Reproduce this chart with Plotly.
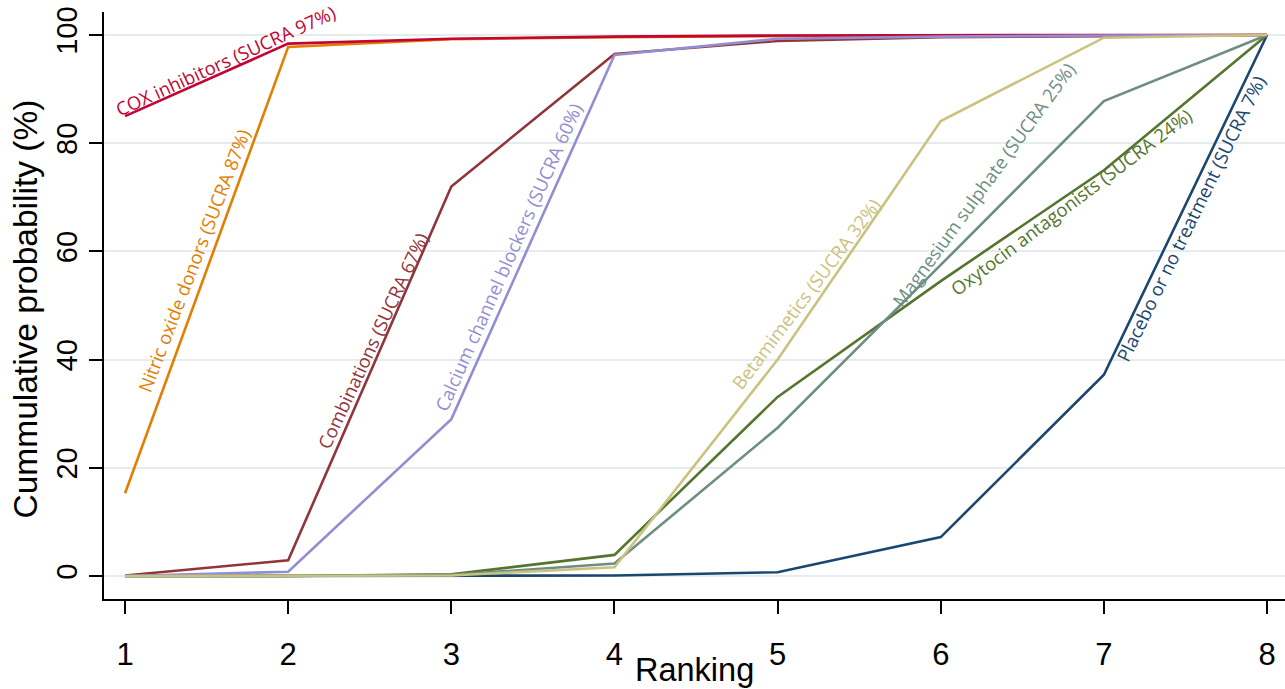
import plotly.graph_objects as go

ranks = [1, 2, 3, 4, 5, 6, 7, 8]

placebo = [0.0, 0.0, 0.0, 0.1, 0.7, 7.2, 37.2, 100]
combinations = [0.1, 2.9, 72.0, 96.5, 98.9, 99.6, 99.8, 100]
oxytocin = [0.0, 0.0, 0.3, 3.9, 33.1, 54.5, 75.0, 100]
nitric = [15.3, 97.8, 99.2, 99.6, 99.8, 99.9, 100, 100]
magnesium = [0.0, 0.0, 0.2, 2.3, 27.4, 57.5, 87.8, 100]
cox = [85.0, 98.4, 99.3, 99.7, 99.9, 100, 100, 100]
calcium = [0.0, 0.8, 29.0, 96.3, 99.3, 99.7, 99.9, 100]
betamimetics = [0.0, 0.0, 0.1, 1.6, 40.0, 84.1, 99.5, 100]

series = [
    ("Placebo or no treatment (SUCRA 7%)", placebo, "rgb(26,71,111)"),
    ("Combinations (SUCRA 67%)", combinations, "rgb(144,53,59)"),
    ("Oxytocin antagonists (SUCRA 24%)", oxytocin, "rgb(85,117,47)"),
    ("Nitric oxide donors (SUCRA 87%)", nitric, "rgb(227,126,0)"),
    ("Magnesium sulphate (SUCRA 25%)", magnesium, "rgb(110,142,132)"),
    ("COX inhibitors (SUCRA 97%)", cox, "rgb(193,5,52)"),
    ("Calcium channel blockers (SUCRA 60%)", calcium, "rgb(147,141,210)"),
    ("Betamimetics (SUCRA 32%)", betamimetics, "rgb(202,194,126)"),
]

# label positions (data coords of text centre) and angle
label_pos = {
    "COX inhibitors (SUCRA 97%)": (1.613, 95.2, -24.5),
    "Nitric oxide donors (SUCRA 87%)": (1.418, 58.4, -69),
    "Combinations (SUCRA 67%)": (2.518, 43.5, -65),
    "Calcium channel blockers (SUCRA 60%)": (3.350, 59.0, -66),
    "Betamimetics (SUCRA 32%)": (5.172, 52.3, -53),
    "Magnesium sulphate (SUCRA 25%)": (6.262, 72.3, -54),
    "Oxytocin antagonists (SUCRA 24%)": (6.800, 69.2, -37),
    "Placebo or no treatment (SUCRA 7%)": (7.530, 66.1, -64),
}

fig = go.Figure()
annotations = []
for name, vals, col in series:
    fig.add_trace(go.Scatter(x=ranks, y=vals, mode="lines", name=name,
                             line=dict(color=col, width=2.6), showlegend=False))
    lx, ly, ang = label_pos[name]
    annotations.append(dict(x=lx, y=ly, xref="x", yref="y", text=name, showarrow=False,
                            textangle=ang, xanchor="center", yanchor="middle",
                            font=dict(family="Open Sans", size=18.5, color=col)))

axis_font = dict(family="Liberation Sans, Arial", size=31, color="black")
yaxis_font = dict(family="Liberation Sans, Arial", size=29, color="black")
title_font = dict(family="Liberation Sans, Arial", size=33.5, color="black")
annotations.append(dict(x=0.5, y=0, xref="paper", yref="paper", text="Ranking",
                        showarrow=False, xanchor="center", yanchor="middle", yshift=-71,
                        font=dict(family="Liberation Sans, Arial", size=32.5, color="black")))
annotations.append(dict(x=0, y=0.5, xref="paper", yref="paper", text="Cummulative probability (%)",
                        showarrow=False, xanchor="center", yanchor="middle", xshift=-79, yshift=-4,
                        textangle=-90, font=title_font))

fig.update_layout(
    width=1285, height=689,
    margin=dict(l=104, r=0, t=12, b=90, pad=0),
    paper_bgcolor="white", plot_bgcolor="white",
    annotations=annotations,
    xaxis=dict(range=[0.871, 8.11], tickmode="array", tickvals=ranks,
               ticktext=[str(r) for r in ranks], showgrid=False, zeroline=False,
               showline=True, linecolor="black", linewidth=2,
               ticks="outside", ticklen=13, tickwidth=2, tickcolor="black",
               ticklabelstandoff=14, tickfont=axis_font),
    yaxis=dict(range=[-4.25, 104.25], tickmode="array", tickvals=[0, 20, 40, 60, 80, 100],
               showgrid=True, gridcolor="#E4ECEE", gridwidth=2, zeroline=False,
               showline=True, linecolor="black", linewidth=2,
               ticks="outside", ticklen=13, tickwidth=2, tickcolor="black",
               tickangle=-90, tickfont=yaxis_font),
)

fig.write_html("out.html", config={"displayModeBar": False},
               post_script="document.body.style.margin='0';document.body.style.overflow='hidden';")
